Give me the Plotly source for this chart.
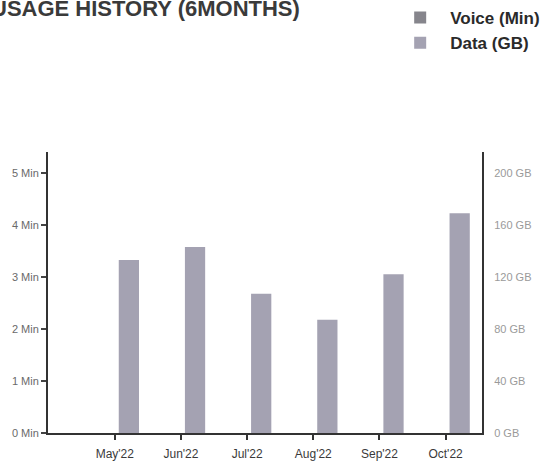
import plotly.graph_objects as go

months = ["May'22", "Jun'22", "Jul'22", "Aug'22", "Sep'22", "Oct'22"]
voice_min = [0, 0, 0, 0, 0, 0]
data_gb = [133, 143, 107, 87, 122, 169]
left_tickvals = [0, 1, 2, 3, 4, 5]
left_ticktext = ["0 Min", "1 Min", "2 Min", "3 Min", "4 Min", "5 Min"]
right_tickvals = [0, 40, 80, 120, 160, 200]
right_ticktext = ["0 GB", "40 GB", "80 GB", "120 GB", "160 GB", "200 GB"]

VOICE_COLOR = "#86858c"
DATA_COLOR = "#a4a2b2"
FONT = "Liberation Sans, Arial, sans-serif"

fig = go.Figure()
fig.add_trace(go.Bar(x=months, y=voice_min, name="Voice (Min)",
                     marker=dict(color=VOICE_COLOR, line=dict(width=0)),
                     offsetgroup="v", yaxis="y"))
fig.add_trace(go.Bar(x=months, y=data_gb, name="Data (GB)",
                     marker=dict(color=DATA_COLOR, line=dict(width=0)),
                     offsetgroup="d", yaxis="y2"))

fig.update_layout(
    width=559, height=468,
    margin=dict(l=48, r=77, t=152, b=35, autoexpand=False),
    paper_bgcolor="white", plot_bgcolor="white",
    font=dict(family=FONT),
    barmode="group", bargap=0.15, bargroupgap=0.28,
    showlegend=True,
    legend=dict(xref="container", yref="container", x=0.698, y=1.0,
                xanchor="left", yanchor="top",
                font=dict(size=17, color="#2a2a2a", family=FONT, weight="bold"),
                itemwidth=50, tracegroupgap=0, bgcolor="rgba(0,0,0,0)"),
    xaxis=dict(type="category", range=[-1.01, 5.55], showline=True,
               linecolor="#333", linewidth=2, ticks="outside", ticklen=5,
               tickcolor="#333", tickwidth=2, showgrid=False, zeroline=False,
               tickfont=dict(size=12, color="#3a3a3a"), ticklabelstandoff=4),
    yaxis=dict(range=[0, 5.4], tickvals=left_tickvals, ticktext=left_ticktext,
               showline=True, linecolor="#333", linewidth=2, ticks="outside",
               ticklen=5, tickcolor="#444", tickwidth=2, showgrid=False,
               zeroline=False, tickfont=dict(size=11, color="#6a6a6a")),
    yaxis2=dict(range=[0, 216], tickvals=right_tickvals, ticktext=right_ticktext,
                overlaying="y", side="right", showline=True, linecolor="#333",
                linewidth=2, ticks="", showgrid=False, zeroline=False,
                tickfont=dict(size=11, color="#9a9a9a"), ticklabelstandoff=8),
    annotations=[dict(text="<b>USAGE HISTORY (6MONTHS)</b>", xref="paper", yref="paper",
                      x=-0.136, y=1.509, xanchor="left", yanchor="middle",
                      showarrow=False, font=dict(size=22, color="#3a3a3a", family=FONT))],
)

fig.write_html("out.html", config={"displayModeBar": False},
               post_script="document.body.style.margin='0';document.body.style.overflow='hidden';")
